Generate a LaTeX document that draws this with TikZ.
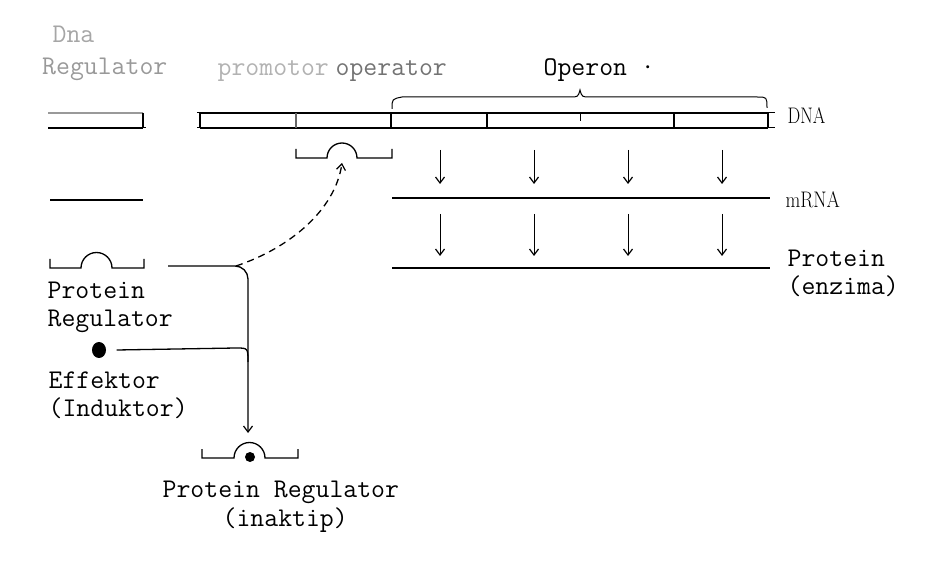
\documentclass[tikz,border=0pt]{standalone}
\usepackage{fontspec}
\usetikzlibrary{arrows.meta,shapes.geometric}
\begin{document}
\begin{tikzpicture}[x=1pt,y=-1pt,line width=1.3pt,
  tt/.style={font=\ttfamily\fontsize{27}{30}\selectfont,inner sep=0pt,anchor=base west},
  rm/.style={font=\fontsize{22.5}{26}\selectfont,inner sep=0pt,anchor=base west},
  tip/.style={-{Straight Barb[length=6pt,width=9pt,line width=1.2pt]}},
  thin/.style={line width=1pt}
]
\useasboundingbox (0,0) rectangle (935,561);

% ---------- top labels (faded) ----------
\node[tt,text=black!35] (dna1) at (52,43) {Dna};
\node[tt,text=black!40,anchor=base east] (reg1) at (168,75) {Regulator};
\node[tt,text=black!30] (prom) at (217,76) {promotor};
\node[tt,text=black!55] (oper) at (335,76) {operator};
\node[tt] (operon) at (543,76) {Operon ·};

% ---------- DNA ----------
% left piece (regulator gene)
\draw[black!40] (48,113) -- (143,113);
\draw (48,128) -- (143,128);
\draw (143,113) -- (143,128);
\draw[thin] (140,128) -- (146,128);
% main piece
\draw (200,113) -- (768,113);
\draw (200,128) -- (768,128);
\draw (200,113) -- (200,128);
\draw[thin] (197,113) -- (203,113) (197,128) -- (203,128);
\draw[black!60] (296,113) -- (296,128);
\draw (391,113) -- (391,128);
\draw (487,113) -- (487,128);
\draw[thin] (580,113) -- (580,121);
\draw (674,113) -- (674,128);
\draw (768,113) -- (768,128);
\draw[thin] (762,113) -- (775,113) (762,128) -- (775,128);
\node[rm] (dnalab) at (787,124) {\scalebox{0.8}[1]{DNA}};

% brace over operon
\draw[thin] (392,109) .. controls (392,99) .. (402,97) -- (570,97)
  .. controls (578,97) .. (580,90) .. controls (582,97) .. (590,97)
  -- (757,97) .. controls (767,97) .. (767,108);

% operator binding site
\draw (296,149) -- (296,158) -- (327,158) arc[start angle=180,end angle=0,radius=15pt]
  -- (392,158) -- (392,149);
\coordinate (opsite) at (342,163);

% ---------- transcription ----------
\draw (50,200) -- (143,200);
\draw (392,198) -- (770,198);
\node[rm] (mrnalab) at (785,208) {\scalebox{0.85}[1]{mRNA}};
\foreach \x [count=\i] in {440,534,628,722}{
  \coordinate (d\i) at (\x,150);
  \coordinate (m\i) at (\x,184);
  \coordinate (mm\i) at (\x,214);
  \coordinate (p\i) at (\x,256);
  \draw[tip,thin] (d\i) -- (m\i);
  \draw[tip,thin] (mm\i) -- (p\i);
}

% ---------- protein ----------
\draw (392,268) -- (770,268);
\node[tt] (prot) at (787,267) {Protein};
\node[tt] (enz) at (787,295) {(enzima)};

% ---------- regulator protein ----------
\draw (50,259) -- (50,268) -- (81,268) arc[start angle=180,end angle=0,radius=15.5pt]
  -- (144,268) -- (144,259);
\node[tt] (pr) at (47,299) {Protein};
\node[tt] (rg) at (47,327) {Regulator};

% effector
\node[ellipse,fill,inner sep=0pt,minimum width=14pt,minimum height=16pt] (eff) at (99,350) {};
\node[tt] (ef) at (48,389) {Effektor};
\node[tt] (ind) at (48,417) {(Induktor)};

% connectors
\coordinate (regout) at (168,266);
\coordinate (split) at (236,266);
\coordinate (inacttop) at (248,433);
\draw[tip,rounded corners=13pt] (regout) -- (248,266) -- (inacttop);
\draw ([xshift=10pt]eff.east) -- (236,348) .. controls (248,348) .. (248,362);
\draw[dashed,dash pattern=on 7pt off 5pt,tip] (split) .. controls (290,248) and (335,210) .. (opsite);

% ---------- inactive regulator ----------
\draw (202,449) -- (202,458) -- (234,458) arc[start angle=180,end angle=0,radius=15.5pt]
  -- (298,458) -- (298,449);
\fill (250,457) circle[radius=5pt];
\node[tt] (pri) at (162,497) {Protein Regulator};
\node[tt] (ina) at (222,526) {(inaktip)};
\end{tikzpicture}
\end{document}
